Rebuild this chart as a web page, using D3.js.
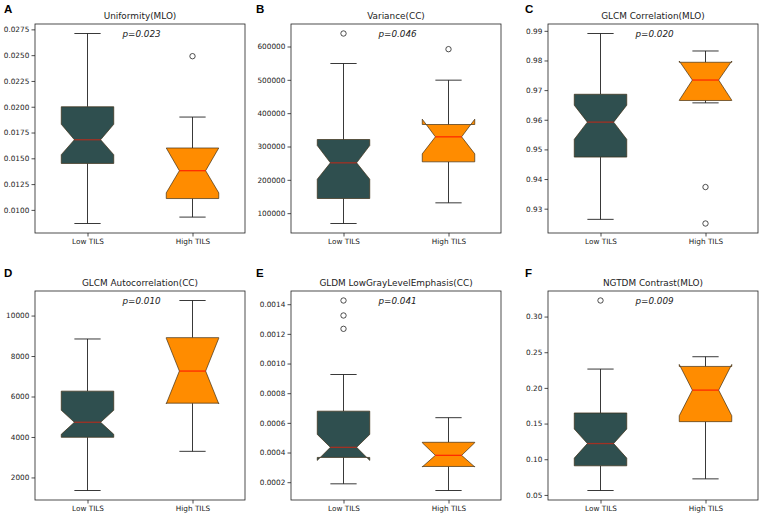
<!DOCTYPE html>
<html>
<head>
<meta charset="utf-8">
<script src="https://cdn.jsdelivr.net/npm/d3@7"></script>
<style>
  html, body { margin: 0; padding: 0; background: #fff; }
  svg { display: block; }
</style>
</head>
<body>
<script>
// ---------- data ----------
const panelLetters = ["A", "B", "C", "D", "E", "F"];
const titles = ["Uniformity(MLO)", "Variance(CC)", "GLCM Correlation(MLO)",
                "GLCM Autocorrelation(CC)", "GLDM LowGrayLevelEmphasis(CC)", "NGTDM Contrast(MLO)"];
const pLabels = ["p=0.023", "p=0.046", "p=0.020", "p=0.010", "p=0.041", "p=0.009"];
const groups = ["Low TILS", "High TILS"];

// per panel: [Low TILS, High TILS]
const whiskerLo = [[0.00868, 0.0093], [69000, 131000], [0.9264, 0.9657], [1355, 3290], [0.000189, 0.000144], [0.0562, 0.0725]];
const q1        = [[0.0145, 0.0111], [144000, 254000], [0.9474, 0.9665], [3983, 5670], [0.000367, 0.000306], [0.0908, 0.1527]];
const notchLo   = [[0.01535, 0.01165], [202000, 278000], [0.9534, 0.9666], [4132, 5640], [0.000347, 0.000303], [0.1016, 0.1610]];
const medians   = [[0.0168, 0.0138], [251000, 329000], [0.9592, 0.9734], [4727, 7257], [0.000435, 0.000381], [0.1220, 0.1969]];
const notchHi   = [[0.01830, 0.0160], [303000, 382000], [0.9649, 0.9798], [5322, 8880], [0.000522, 0.000466], [0.1424, 0.2329]];
const q3        = [[0.0200, 0.0160], [321000, 366000], [0.9686, 0.9794], [6265, 8909], [0.000679, 0.000469], [0.1649, 0.2301]];
const whiskerHi = [[0.0271, 0.0190], [549000, 499000], [0.9891, 0.9832], [8843, 10744], [0.000926, 0.000635], [0.2264, 0.2437]];
const outliers  = [[[], [0.0249]], [[639000], [592000]], [[], [0.9373, 0.9250]], [[], []],
                   [[0.001425, 0.001324, 0.001234], []], [[0.3225], []]];

const yTicks = [
  [0.0100, 0.0125, 0.0150, 0.0175, 0.0200, 0.0225, 0.0250, 0.0275],
  [100000, 200000, 300000, 400000, 500000, 600000],
  [0.93, 0.94, 0.95, 0.96, 0.97, 0.98, 0.99],
  [2000, 4000, 6000, 8000, 10000],
  [0.0002, 0.0004, 0.0006, 0.0008, 0.0010, 0.0012, 0.0014],
  [0.05, 0.10, 0.15, 0.20, 0.25, 0.30]
];
const yFormats = [".4f", "d", ".2f", "d", ".4f", ".2f"];

// ---------- layout / style ----------
const W = 763, H = 516;
const axLefts = [35, 291, 548];
const axTops = [24, 291];
const axW = 210, axH = 209;
const letterX = [4, 256, 525];
const letterY = [13, 277];
const boxColors = ["#2f4f4f", "#ff8c00"];
const FONT = "'DejaVu Sans', sans-serif";

const svg = d3.select("body").append("svg")
  .attr("width", W).attr("height", H)
  .style("background", "#fff");

panelLetters.forEach((letter, i) => {
  const col = i % 3, row = Math.floor(i / 3);
  const left = axLefts[col], top = axTops[row];

  // y domain: data extent + 5% margin (matplotlib style)
  const all = [].concat(whiskerLo[i], whiskerHi[i], q1[i], q3[i], notchLo[i], notchHi[i], outliers[i][0], outliers[i][1]);
  const mn = d3.min(all), mx = d3.max(all), pad = (mx - mn) * 0.05;
  const y = d3.scaleLinear().domain([mn - pad, mx + pad]).range([axH, 0]);
  const x = d3.scaleLinear().domain([0.5, 2.5]).range([0, axW]);

  const g = svg.append("g").attr("transform", `translate(${left},${top})`);

  // y axis
  const yAx = g.append("g").call(
    d3.axisLeft(y).tickValues(yTicks[i]).tickFormat(d3.format(yFormats[i]))
      .tickSize(3.5).tickSizeOuter(0).tickPadding(2.2));
  yAx.select(".domain").remove();
  yAx.selectAll("line").attr("stroke", "#222").attr("stroke-width", 0.8);
  yAx.selectAll("text").attr("font-family", FONT).attr("font-size", 7.3).attr("fill", "#222");

  // x axis
  const xAx = g.append("g").attr("transform", `translate(0,${axH})`).call(
    d3.axisBottom(x).tickValues([1, 2]).tickFormat((d) => groups[d - 1])
      .tickSize(3.5).tickSizeOuter(0).tickPadding(2.2));
  xAx.select(".domain").remove();
  xAx.selectAll("line").attr("stroke", "#222").attr("stroke-width", 0.8);
  xAx.selectAll("text").attr("font-family", FONT).attr("font-size", 7.3).attr("fill", "#222");

  // boxes
  const bw = x(1.25) - x(1);   // half of box width (0.5 units total)
  const cw = x(1.125) - x(1);  // half cap width
  [0, 1].forEach((k) => {
    const cx = x(k + 1);
    const yq1 = y(q1[i][k]), yq3 = y(q3[i][k]), ym = y(medians[i][k]);
    const ynl = y(notchLo[i][k]), ynh = y(notchHi[i][k]);
    const L = cx - bw, R = cx + bw, wl = cx - bw / 2, wr = cx + bw / 2;

    // whiskers
    g.append("line").attr("x1", cx).attr("x2", cx).attr("y1", yq3).attr("y2", y(whiskerHi[i][k]))
      .attr("stroke", "#222").attr("stroke-width", 0.9);
    g.append("line").attr("x1", cx).attr("x2", cx).attr("y1", yq1).attr("y2", y(whiskerLo[i][k]))
      .attr("stroke", "#222").attr("stroke-width", 0.9);

    // notched box
    const pts = [[L, yq1], [L, ynl], [wl, ym], [L, ynh], [L, yq3],
                 [R, yq3], [R, ynh], [wr, ym], [R, ynl], [R, yq1]];
    g.append("path").attr("d", d3.line()(pts) + "Z")
      .attr("fill", boxColors[k]).attr("stroke", "#3a2a10").attr("stroke-opacity", 0.75)
      .attr("stroke-width", 0.9).attr("stroke-linejoin", "miter");

    // median
    g.append("line").attr("x1", wl).attr("x2", wr).attr("y1", ym).attr("y2", ym)
      .attr("stroke", "#ff1a00").attr("stroke-opacity", k === 0 ? 0.55 : 0.85).attr("stroke-width", 1.3);

    // caps
    [whiskerHi[i][k], whiskerLo[i][k]].forEach((v) => {
      g.append("line").attr("x1", cx - cw).attr("x2", cx + cw).attr("y1", y(v)).attr("y2", y(v))
        .attr("stroke", "#222").attr("stroke-width", 0.9);
    });

    // outliers
    g.selectAll(null).data(outliers[i][k]).enter().append("circle")
      .attr("cx", cx).attr("cy", (d) => y(d)).attr("r", 2.7)
      .attr("fill", "none").attr("stroke", "#222").attr("stroke-width", 0.8);
  });

  // frame
  g.append("rect").attr("x", 0).attr("y", 0).attr("width", axW).attr("height", axH)
    .attr("fill", "none").attr("stroke", "#222").attr("stroke-width", 0.8);

  // title
  g.append("text").attr("x", axW / 2).attr("y", -5).attr("text-anchor", "middle")
    .attr("font-family", FONT).attr("font-size", 8.9).attr("fill", "#222").text(titles[i]);

  // p value
  g.append("text").attr("x", 87.5).attr("y", 12.5).attr("text-anchor", "start")
    .attr("font-family", FONT).attr("font-style", "italic").attr("font-size", 8.8)
    .attr("fill", "#222").text(pLabels[i]);

  // panel letter
  svg.append("text").attr("x", letterX[col]).attr("y", letterY[row])
    .attr("font-family", "'Liberation Sans', Arial, sans-serif").attr("font-weight", "bold")
    .attr("font-size", 11.5).attr("fill", "#000").text(letter);
});
</script>
</body>
</html>
